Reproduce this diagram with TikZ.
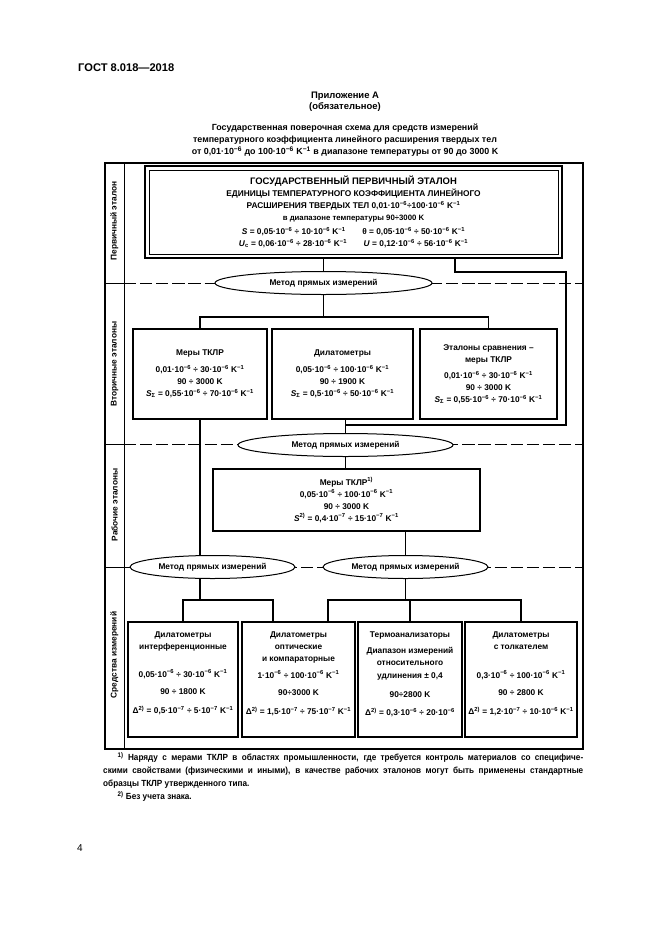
\documentclass[tikz,border=0pt]{standalone}
\usepackage{fontspec}
\setmainfont{Liberation Sans}
\newfontfamily\fnfont[FakeStretch=0.92]{Liberation Sans}
\usetikzlibrary{shapes.geometric,positioning}
\newcommand{\px}{0.9pt}
\newcommand{\tp}[1]{\textsuperscript{#1}}
% box of a measuring instrument: name, x, width, text
\newcommand{\mibox}[4]{%
    \node[mbox, minimum width=#3*\px] (#1) at (#2,679.5) {};%
    \node[btxt, anchor=north] (#1t) at ([yshift=-8.2pt]#1.north) {#4};%
}

\begin{document}
\begin{tikzpicture}[
        x=0.9pt,
        y=-0.9pt,
        box/.style={draw, line width=2.2pt, fill=white, inner sep=0pt, outer sep=0pt,
                    align=center, font=\fontsize{7.5}{10.8}\selectfont\bfseries},
        mbox/.style={draw, line width=2.2pt, inner sep=0pt, outer sep=0pt, minimum height=115*\px},
        btxt/.style={inner sep=0pt, align=center, font=\fontsize{7.5}{11}\selectfont\bfseries},
        meth/.style={ellipse, draw, line width=0.9pt, fill=white, inner sep=0pt, outer sep=0pt,
                     minimum height=23*\px, font=\fontsize{7.5}{9}\selectfont\bfseries},
        lvl/.style={rotate=90, inner sep=0pt, font=\fontsize{7.5}{8}\selectfont\bfseries},
        link/.style={line width=1pt},
        sep/.style={line width=0.9pt, dash pattern=on 11pt off 3.5pt},
        fn/.style={anchor=north west, inner sep=0pt, text width=432pt, align=justify,
                   font=\fnfont\fontsize{8}{11.7}\selectfont\bfseries}
    ]
        \useasboundingbox (0,0) rectangle (661,936);

        % === EN-TETE ===
        \node[anchor=west, inner sep=0pt, font=\fontsize{10}{12}\selectfont\bfseries] (gost) at (78,68) {ГОСТ 8.018—2018};
        \node[align=center, inner sep=0pt, font=\fontsize{8.5}{10}\selectfont\bfseries] (app) at (345,102) {Приложение А\\(обязательное)};
        \node[align=center, inner sep=0pt, font=\fontsize{8}{10.8}\selectfont\bfseries] (ttl) at (345,140) {%
            Государственная поверочная схема для средств измерений\\
            температурного коэффициента линейного расширения твердых тел\\
            от 0,01·10\tp{−6} до 100·10\tp{−6} K\tp{−1} в диапазоне температуры от 90 до 3000 K};

        % === CADRE ET NIVEAUX ===
        \coordinate (ftl) at (105,163);
        \coordinate (fbr) at (583,749);
        \coordinate (col) at (124,163);
        \draw[line width=1.1pt] (ftl) rectangle (fbr);
        \draw[line width=0.8pt] (col) -- (col |- fbr);
        \coordinate (s1) at (124,283);
        \coordinate (s2) at (124,444);
        \coordinate (s3) at (124,567);
        \draw[line width=0.9pt] (ftl |- s1) -- (s1);
        \draw[line width=0.9pt] (ftl |- s2) -- (s2);
        \draw[line width=0.9pt] (ftl |- s3) -- (s3);
        \draw[sep] (s1) -- (s1 -| fbr);
        \draw[sep] (s2) -- (s2 -| fbr);
        \draw[sep] (s3) -- (s3 -| fbr);

        \node[lvl] (lv1) at (114.5,221) {Первичный эталон};
        \node[lvl] (lv2) at (114.5,364) {Вторичные эталоны};
        \node[lvl] (lv3) at (114.5,505) {Рабочие эталоны};
        \node[lvl] (lv4) at (114.5,655) {Средства измерений};

        % === ETALON PRIMAIRE ===
        \node[box, line width=2.6pt, minimum width=417*\px, minimum height=92*\px] (prim) at (353.5,212) {%
            {\fontsize{8.5}{10.8}\selectfont ГОСУДАРСТВЕННЫЙ ПЕРВИЧНЫЙ ЭТАЛОН}\\
            ЕДИНИЦЫ ТЕМПЕРАТУРНОГО КОЭФФИЦИЕНТА ЛИНЕЙНОГО\\
            РАСШИРЕНИЯ ТВЕРДЫХ ТЕЛ 0,01·10\tp{−6}÷100·10\tp{−6} K\tp{−1}\\
            {\fontsize{7}{9}\selectfont в диапазоне температуры 90÷3000 K}\\[1.5pt]
            \textit{S} = 0,05·10\tp{−6} ÷ 10·10\tp{−6} K\tp{−1}\qquad θ = 0,05·10\tp{−6} ÷ 50·10\tp{−6} K\tp{−1}\\
            \textit{U}\textsubscript{c} = 0,06·10\tp{−6} ÷ 28·10\tp{−6} K\tp{−1}\qquad \textit{U} = 0,12·10\tp{−6} ÷ 56·10\tp{−6} K\tp{−1}};
        \draw[line width=0.8pt] ([xshift=3.6pt,yshift=-3.6pt]prim.north west) rectangle ([xshift=-3.6pt,yshift=3.6pt]prim.south east);

        % === METHODES ===
        \node[meth, minimum width=217*\px] (ell1) at (323.5,283) {Метод прямых измерений};
        \node[meth, minimum width=215*\px] (ell2) at (345.5,445) {Метод прямых измерений};
        \node[meth, minimum width=165*\px] (ell3) at (212.5,567) {Метод прямых измерений};
        \node[meth, minimum width=165*\px] (ell4) at (405.5,567) {Метод прямых измерений};

        % === ETALONS SECONDAIRES ===
        \node[box, minimum width=134*\px, minimum height=90*\px] (sec1) at (200,374) {%
            Меры ТКЛР\\[4pt]
            0,01·10\tp{−6} ÷ 30·10\tp{−6} K\tp{−1}\\
            90 ÷ 3000 K\\
            \textit{S}\textsubscript{Σ} = 0,55·10\tp{−6} ÷ 70·10\tp{−6} K\tp{−1}};
        \node[box, minimum width=141*\px, minimum height=90*\px] (sec2) at (342.5,374) {%
            Дилатометры\\[4pt]
            0,05·10\tp{−6} ÷ 100·10\tp{−6} K\tp{−1}\\
            90 ÷ 1900 K\\
            \textit{S}\textsubscript{Σ} = 0,5·10\tp{−6} ÷ 50·10\tp{−6} K\tp{−1}};
        \node[box, minimum width=137*\px, minimum height=90*\px] (sec3) at (488.5,374) {%
            Эталоны сравнения –\\
            меры ТКЛР\\[4pt]
            0,01·10\tp{−6} ÷ 30·10\tp{−6} K\tp{−1}\\
            90 ÷ 3000 K\\
            \textit{S}\textsubscript{Σ} = 0,55·10\tp{−6} ÷ 70·10\tp{−6} K\tp{−1}};

        % === ETALON DE TRAVAIL ===
        \node[box, minimum width=267*\px, minimum height=62*\px] (work) at (346.5,500) {%
            Меры ТКЛР\tp{1)}\\
            0,05·10\tp{−6} ÷ 100·10\tp{−6} K\tp{−1}\\
            90 ÷ 3000 K\\
            \textit{S}\tp{2)} = 0,4·10\tp{−7} ÷ 15·10\tp{−7} K\tp{−1}};

        % === INSTRUMENTS DE MESURE ===
        \mibox{mi1}{183}{110}{Дилатометры\\интерференционные\\[14pt]
            0,05·10\tp{−6} ÷ 30·10\tp{−6} K\tp{−1}\\[5pt]
            90 ÷ 1800 K\\[6pt]
            Δ\tp{2)} = 0,5·10\tp{−7} ÷ 5·10\tp{−7} K\tp{−1}}
        \mibox{mi2}{298.5}{113}{Дилатометры\\оптические\\и компараторные\\[4pt]
            1·10\tp{−6} ÷ 100·10\tp{−6} K\tp{−1}\\[5pt]
            90÷3000 K\\[6pt]
            Δ\tp{2)} = 1,5·10\tp{−7} ÷ 75·10\tp{−7} K\tp{−1}}
        \mibox{mi3}{410}{104}{Термоанализаторы\\[4pt]
            Диапазон измерений\\относительного\\удлинения ± 0,4\\[6pt]
            90÷2800 K\\[6pt]
            Δ\tp{2)} = 0,3·10\tp{−6} ÷ 20·10\tp{−6}}
        \mibox{mi4}{521}{112}{Дилатометры\\с толкателем\\[15pt]
            0,3·10\tp{−6} ÷ 100·10\tp{−6} K\tp{−1}\\[5pt]
            90 ÷ 2800 K\\[6pt]
            Δ\tp{2)} = 1,2·10\tp{−7} ÷ 10·10\tp{−6} K\tp{−1}}

        % === LIAISONS ===
        \coordinate (bp1) at (455,272);
        \coordinate (bp2) at (566,425);
        \coordinate (j1) at (323.5,317);
        \coordinate (j3) at (200,600);
        \coordinate (j3r) at (273,600);
        \coordinate (j4) at (405.5,600);
        \coordinate (j4l) at (328,600);
        \draw[link] (prim.south -| ell1.north) -- (ell1.north);
        \draw[link] (prim.south -| bp1) -- (bp1) -| (bp2) -| (ell2.north);
        \draw[link] (ell1.south) -- (j1);
        \draw[link] (sec1.north) |- (j1) -| (sec3.north);
        \draw[link] (sec2.south -| ell2.north) -- (ell2.north);
        \draw[link] (ell2.south) -- (ell2.south |- work.north);
        \draw[link] (sec1.south) -- (sec1.south |- ell3.north);
        \draw[link] (work.south -| ell4.north) -- (ell4.north);
        \draw[link] (ell3.south -| j3) -- (j3);
        \draw[link] (mi1.north) |- (j3r) -- (j3r |- mi2.north);
        \draw[link] (ell4.south) -- (j4);
        \draw[link] (j4l |- mi2.north) -- (j4l) -| (mi4.north);
        \draw[link] (j4 -| mi3.north) -- (mi3.north);

        % === NOTES ===
        \node[fn] (fn1) at (103,752) {\hspace*{13pt}\tp{1)} Наряду с мерами ТКЛР в областях промышленности, где требуется контроль материалов со специфиче-\linebreak скими свойствами (физическими и иными), в качестве рабочих эталонов могут быть применены стандартные\linebreak образцы ТКЛР утвержденного типа.};
        \node[fn] (fn2) at (103,791) {\hspace*{13pt}\tp{2)} Без учета знака.};
        \node[anchor=west, inner sep=0pt, font=\fontsize{9}{10}\selectfont] (pg) at (77,848) {4};
    \end{tikzpicture}
\end{document}
